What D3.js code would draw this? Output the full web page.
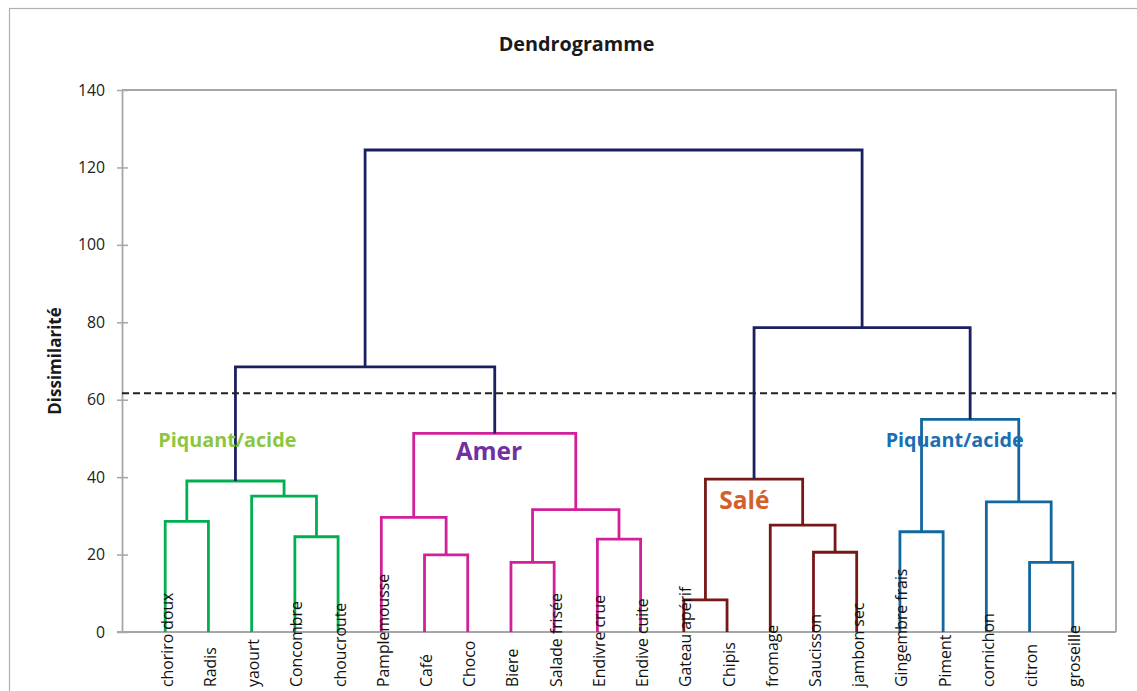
<!DOCTYPE html>
<html>
<head>
<meta charset="utf-8">
<script src="https://cdn.jsdelivr.net/npm/d3@7"></script>
<style>
  html, body { margin: 0; padding: 0; background: #fff; }
  svg { display: block; }
  text { font-family: "Open Sans", "Noto Sans", sans-serif; }
</style>
</head>
<body>
<svg id="chart" width="1137" height="691"></svg>
<script>
// ---------- DATA ----------
const leaves = ["choriro doux", "Radis", "yaourt", "Concombre", "choucroute",
  "Pamplemousse", "Café", "Choco", "Biere", "Salade frisée", "Endivre crue", "Endive cuite",
  "Gateau apérif", "Chipis", "fromage", "Saucisson", "jambon sec",
  "Gingembre frais", "Piment", "cornichon", "citron", "groseille"];

// merges: [child A, child B, dissimilarity]; leaf ids 0..21, merge ids 22..
const merges = [
  [0, 1, 28.6],    // 22
  [3, 4, 24.6],    // 23
  [2, 23, 35.1],   // 24
  [22, 24, 39.0],  // 25
  [6, 7, 19.9],    // 26
  [5, 26, 29.6],   // 27
  [8, 9, 18.0],    // 28
  [10, 11, 24.0],  // 29
  [28, 29, 31.6],  // 30
  [27, 30, 51.3],  // 31
  [25, 31, 68.5],  // 32
  [12, 13, 8.3],   // 33
  [15, 16, 20.6],  // 34
  [14, 34, 27.6],  // 35
  [33, 35, 39.5],  // 36
  [17, 18, 25.9],  // 37
  [20, 21, 18.0],  // 38
  [19, 38, 33.6],  // 39
  [37, 39, 54.9],  // 40
  [36, 40, 78.6],  // 41
  [32, 41, 124.5]  // 42
];

const cutHeight = 61.7;
const yTicks = [0, 20, 40, 60, 80, 100, 120, 140];
const clusterNames = ["Piquant/acide", "Amer", "Salé", "Piquant/acide"];
// annotation anchors in data units (leaf position, dissimilarity)
const clusterLabelX = [-0.16, 6.72, 12.82, 16.67];
const clusterLabelY = [47.9, 44.5, 31.9, 47.9];

// ---------- STYLE ----------
const clusterColors = ["#00b050", "#d0209a", "#771818", "#13679f"];
const clusterLabelColors = ["#8cc63e", "#7030a0", "#d2602c", "#1a6fb2"];
const clusterLabelSizes = [19.8, 24.5, 24.5, 19.8];
const topColor = "#1b2160";
const axisColor = "#a6a6a6";

const svg = d3.select("#chart");
const plot = { left: 122, right: 1116, top: 90, bottom: 632 };

// outer chart border
svg.append("rect").attr("x", 9.5).attr("y", 8.5).attr("width", 1150).attr("height", 720)
  .attr("fill", "none").attr("stroke", "#b0b0b0").attr("stroke-width", 1.2);

const x = d3.scalePoint().domain(d3.range(leaves.length))
  .range([plot.left, plot.right]).padding(1);
const y = d3.scaleLinear().domain([0, 140]).range([plot.bottom, plot.top]);

// plot frame (top and right)
svg.append("path")
  .attr("d", `M${plot.left},${plot.top}H${plot.right}V${plot.bottom}`)
  .attr("fill", "none").attr("stroke", axisColor).attr("stroke-width", 1.8);

// y axis
const yAxis = d3.axisLeft(y).tickValues(yTicks).tickSize(0).tickPadding(0);
const gy = svg.append("g").attr("transform", `translate(${plot.left},0)`).call(yAxis);
gy.select(".domain").attr("stroke", axisColor).attr("stroke-width", 1.8);
gy.selectAll(".tick line").remove();
gy.selectAll(".tick").append("line").attr("x1", -5).attr("x2", 6)
  .attr("stroke", axisColor).attr("stroke-width", 1.5);
gy.selectAll(".tick text").attr("x", -17).attr("font-size", 15.8)
  .attr("fill", "#222").attr("font-family", "Open Sans, sans-serif");

// x axis line
svg.append("line").attr("x1", plot.left - 5).attr("x2", plot.right)
  .attr("y1", plot.bottom).attr("y2", plot.bottom)
  .attr("stroke", axisColor).attr("stroke-width", 1.8);

// ---------- build tree ----------
const nodeX = leaves.map((_, i) => x(i));
const nodeH = leaves.map(() => 0);
merges.forEach(([a, b, h]) => {
  nodeX.push((nodeX[a] + nodeX[b]) / 2);
  nodeH.push(h);
});
// cluster assignment: merges below the cut, numbered left to right
const nodeCluster = new Array(nodeX.length).fill(-1);
const children = {};
merges.forEach(([a, b], k) => { children[leaves.length + k] = [a, b]; });
let clusterCount = 0;
function assign(id, cl) {
  if (cl === -1 && nodeH[id] < cutHeight) cl = clusterCount++;
  nodeCluster[id] = cl;
  if (children[id]) children[id].forEach(c => assign(c, cl));
}
assign(nodeX.length - 1, -1);

const linkData = merges.map(([a, b, h], k) => ({ a, b, h, id: leaves.length + k }));
svg.append("g").selectAll("path").data(linkData).join("path")
  .attr("d", d => `M${nodeX[d.a]},${y(nodeH[d.a])}V${y(d.h)}H${nodeX[d.b]}V${y(nodeH[d.b])}`)
  .attr("fill", "none")
  .attr("stroke", d => nodeCluster[d.id] < 0 ? topColor : clusterColors[nodeCluster[d.id]])
  .attr("stroke-width", 2.8)
  .attr("stroke-linejoin", "miter").attr("stroke-linecap", "butt");

// cut line
svg.append("line").attr("x1", plot.left).attr("x2", plot.right)
  .attr("y1", y(cutHeight)).attr("y2", y(cutHeight))
  .attr("stroke", "#222").attr("stroke-width", 2).attr("stroke-dasharray", "7,4");

// leaf labels
svg.append("g").selectAll("text").data(leaves).join("text")
  .attr("transform", (d, i) => `translate(${x(i) + 2},687) rotate(-90)`)
  .attr("dy", "0.35em")
  .attr("font-size", 15.8).attr("fill", "#111")
  .text(d => d);

// cluster labels
const step = x.step();
svg.append("g").selectAll("text").data(clusterNames).join("text")
  .attr("x", (d, i) => x(0) + clusterLabelX[i] * step)
  .attr("y", (d, i) => y(clusterLabelY[i]))
  .attr("font-size", (d, i) => clusterLabelSizes[i])
  .attr("font-weight", 700)
  .attr("fill", (d, i) => clusterLabelColors[i])
  .text(d => d);

// title
svg.append("text").attr("x", 576.5).attr("y", 51).attr("text-anchor", "middle")
  .attr("font-size", 19.8).attr("font-weight", 700).attr("fill", "#1a1a1a")
  .text("Dendrogramme");

// y axis title
svg.append("text").attr("transform", "translate(61,361) rotate(-90)")
  .attr("text-anchor", "middle")
  .attr("font-size", 17).attr("font-weight", 700).attr("fill", "#1a1a1a")
  .text("Dissimilarité");
</script>
</body>
</html>
